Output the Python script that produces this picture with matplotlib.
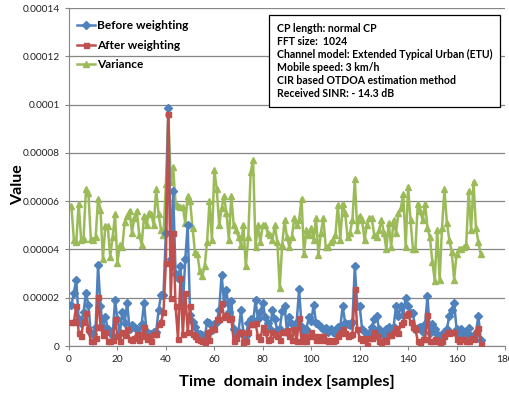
import matplotlib
matplotlib.use("Agg")
import matplotlib.pyplot as plt

plt.rcParams['font.family'] = ['Lato', 'DejaVu Sans']

# values in units of 1e-5, samples 1..170
before = [1.7, 2.2, 2.75, 1.1, 0.95, 1.4, 2.2, 1.7, 0.55, 0.5,
          0.8, 3.35, 1.65, 0.8, 1.2, 0.7, 0.6, 0.4, 1.9, 1.1,
          0.55, 1.4, 0.95, 1.8, 0.7, 0.85, 0.8, 0.7, 0.5, 0.9,
          1.8, 0.6, 0.5, 0.5, 0.6, 0.6, 1.5, 2.1, 2.1, 4.7,
          9.85, 3.6, 6.4, 3.0, 2.8, 3.3, 1.65, 3.6, 5.0, 1.3,
          1.0, 0.8, 0.55, 0.5, 0.45, 0.3, 1.0, 0.95, 0.65, 0.9,
          1.0, 1.5, 2.95, 1.8, 2.3, 1.4, 1.85, 0.7, 0.4, 0.6,
          1.5, 0.55, 0.4, 0.95, 1.1, 0.95, 1.9, 1.1, 1.4, 1.8,
          1.2, 0.95, 0.7, 1.5, 1.1, 0.65, 0.7, 1.45, 1.65, 0.6,
          1.2, 0.9, 0.7, 1.0, 2.35, 0.8, 0.6, 0.7, 1.2, 1.05,
          1.7, 0.95, 0.9, 0.8, 0.7, 0.75, 0.6, 0.7, 0.6, 0.55,
          0.8, 0.8, 1.65, 0.95, 0.9, 0.85, 1.0, 3.3, 1.65, 1.65,
          0.7, 0.6, 0.4, 0.55, 0.8, 1.1, 1.25, 0.7, 0.6, 0.4,
          0.7, 0.8, 0.55, 0.8, 1.65, 1.25, 1.65, 1.3, 2.0, 1.65,
          1.35, 1.35, 0.7, 0.75, 0.8, 0.6, 0.9, 2.06, 0.55, 0.9,
          0.7, 0.5, 0.4, 0.4, 0.6, 0.7, 1.25, 1.5, 1.8, 0.7,
          0.4, 0.7, 0.6, 0.6, 0.75, 0.4, 0.4, 0.55, 1.25, 0.25]

after = [1.0, 1.0, 1.65, 0.55, 0.4, 1.0, 1.35, 0.7, 0.2, 0.2,
         0.35, 2.05, 0.8, 0.45, 0.6, 0.2, 0.2, 0.25, 1.1, 0.4,
         0.2, 0.6, 0.45, 0.7, 0.3, 0.25, 0.35, 0.5, 0.25, 0.4,
         0.8, 0.3, 0.4, 0.2, 0.5, 0.5, 0.9, 1.0, 1.4, 3.45,
         9.6, 2.0, 4.7, 1.65, 0.3, 2.8, 0.5, 2.2, 0.6, 1.65,
         0.5, 0.4, 0.3, 0.25, 0.2, 0.15, 0.6, 0.25, 0.7, 0.7,
         1.1, 1.1, 1.8, 1.2, 1.3, 1.1, 1.15, 0.2, 0.35, 0.6,
         0.6, 0.15, 0.2, 0.6, 0.9, 0.9, 0.95, 0.4, 0.3, 0.8,
         0.6, 0.25, 0.3, 0.6, 0.5, 0.4, 0.25, 0.6, 0.6, 0.65,
         0.4, 0.25, 0.7, 0.2, 1.15, 0.2, 0.4, 0.2, 0.4, 0.6,
         0.4, 0.25, 0.4, 0.25, 0.4, 0.25, 0.2, 0.25, 0.2, 0.25,
         0.4, 0.55, 0.7, 0.55, 0.4, 0.45, 0.5, 2.35, 0.7, 0.35,
         0.25, 0.35, 0.05, 0.35, 0.35, 0.6, 0.4, 0.2, 0.15, 0.25,
         0.2, 0.45, 0.45, 0.6, 0.75, 0.55, 0.9, 1.0, 1.3, 1.35,
         1.0, 0.8, 0.7, 0.2, 0.15, 0.3, 0.3, 1.3, 0.2, 0.2,
         0.3, 0.2, 0.15, 0.2, 0.4, 0.6, 0.55, 0.6, 0.6, 0.3,
         0.2, 0.3, 0.3, 0.2, 0.2, 0.35, 0.3, 0.6, 0.75, 0.1]

variance = [5.8, 4.4, 4.3, 5.9, 4.4, 4.45, 6.5, 6.35, 4.45, 4.4,
            4.5, 6.1, 5.65, 3.6, 4.95, 4.95, 3.7, 4.5, 5.45, 3.45,
            4.2, 4.1, 5.15, 5.4, 5.6, 4.7, 5.3, 5.6, 4.6, 4.2,
            5.4, 5.0, 5.5, 5.45, 5.0, 6.5, 5.45, 4.8, 4.6, 6.7,
            9.7, 6.8, 7.4, 5.9, 5.8, 5.75, 5.75, 5.1, 6.2, 6.0,
            4.9, 3.9, 3.8, 3.1, 2.9, 3.3, 4.3, 6.0, 4.4, 7.3,
            6.5, 5.0, 5.7, 6.2, 5.5, 4.4, 6.2, 5.0, 4.8, 4.5,
            4.2, 5.0, 3.3, 4.5, 7.2, 7.7, 4.1, 5.0, 4.3, 5.0,
            5.0, 4.7, 4.6, 4.4, 5.0, 4.3, 2.4, 4.2, 5.2, 4.5,
            4.1, 4.5, 5.3, 5.0, 5.2, 6.1, 3.8, 4.8, 4.6, 4.9,
            4.4, 5.3, 3.75, 4.7, 5.3, 4.1, 4.1, 4.3, 4.4, 4.6,
            5.85, 4.4, 5.9, 5.5, 4.5, 4.7, 5.2, 6.9, 4.8, 5.4,
            5.2, 4.4, 5.0, 5.3, 5.3, 4.6, 4.5, 4.8, 5.2, 4.7,
            4.0, 5.1, 4.1, 5.2, 4.7, 5.5, 5.7, 6.3, 4.1, 6.6,
            5.2, 4.0, 4.0, 5.9, 5.6, 5.2, 5.9, 4.9, 4.5, 3.5,
            2.7, 4.8, 2.75, 4.9, 6.5, 5.1, 4.4, 3.9, 2.75, 3.8,
            4.0, 4.0, 4.1, 4.2, 6.4, 4.8, 6.8, 4.9, 4.3, 3.8]

samples = list(range(1, len(variance) + 1))
yticks = [0, 2e-5, 4e-5, 6e-5, 8e-5, 1e-4, 1.2e-4, 1.4e-4]
ytick_labels = ['0', '0.00002', '0.00004', '0.00006', '0.00008', '0.0001', '0.00012', '0.00014']
info = ("CP length: normal CP\nFFT size:  1024\n"
        "Channel model: Extended Typical Urban (ETU)\n"
        "Mobile speed: 3 km/h\nCIR based OTDOA estimation method\n"
        "Received SINR: - 14.3 dB")

fig = plt.figure(figsize=(5.1, 3.98), dpi=100)
ax = fig.add_axes([69 / 510, 1 - 346 / 398, 436 / 510, 338 / 398])

scale = 1e-5
ax.plot(samples, [v * scale for v in before], color='#4F81BD', lw=1.8,
        marker='D', ms=3.6, label='Before weighting', zorder=3)
ax.plot(samples, [v * scale for v in after], color='#C0504D', lw=1.8,
        marker='s', ms=3.6, label='After weighting', zorder=4)
ax.plot(samples, [v * scale for v in variance], color='#9BBB59', lw=1.8,
        marker='^', ms=4.0, label='Variance', zorder=2)

ax.set_xlim(0, 180)
ax.set_ylim(0, 1.4e-4)
ax.set_xticks(range(0, 181, 20))
ax.set_yticks(yticks)
ax.set_yticklabels(ytick_labels)
ax.tick_params(labelsize=7.3, length=3, color='#868686', labelcolor='#222222')
ax.yaxis.grid(True, color='#868686', lw=0.9)
ax.set_axisbelow(True)
for side in ['top', 'right']:
    ax.spines[side].set_visible(False)
for side in ['left', 'bottom']:
    ax.spines[side].set_color('#868686')

ax.set_xlabel('Time  domain index [samples]', fontsize=11.8, fontweight='bold', labelpad=8)
ax.set_ylabel('Value', fontsize=11.5, fontweight='bold')
ax.yaxis.set_label_coords(-0.1, 0.476)

ax.legend(loc='upper left', bbox_to_anchor=(-0.007, 0.995), frameon=False,
          prop={'size': 8.6, 'weight': 'bold'}, handlelength=1.5,
          handletextpad=0.2, labelspacing=0.7)

ax.text(0.477, 0.957, info, transform=ax.transAxes, ha='left', va='top',
        fontsize=7.6, fontweight='bold', linespacing=1.24,
        bbox=dict(boxstyle='square,pad=0.75', fc='white', ec='black', lw=0.9))

fig.savefig('out.png', dpi=100)
